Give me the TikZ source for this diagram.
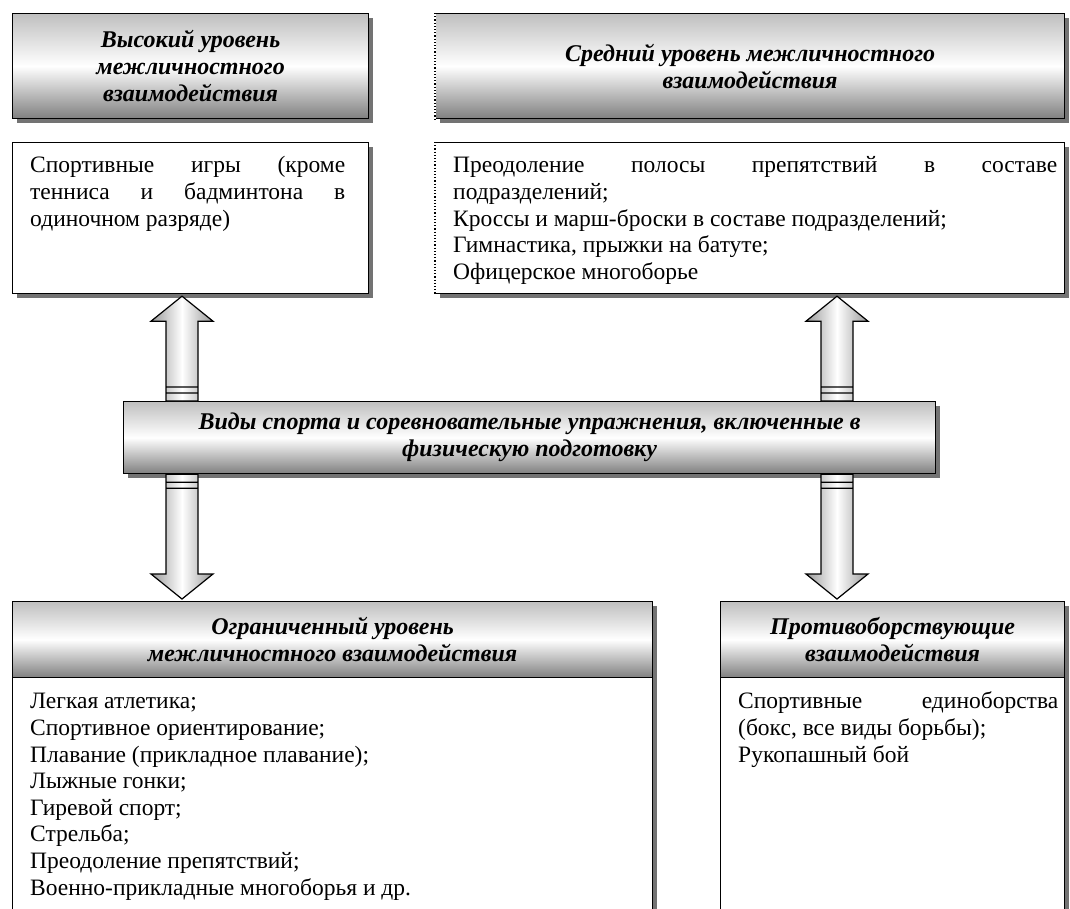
\documentclass[tikz,border=0pt]{standalone}
\usepackage{fontspec}
\setmainfont{Liberation Serif}
\usetikzlibrary{shadows,calc}

\newcommand{\fatarrow}[2]{%
  \path[fat arrow] let \p1=(#1), \p2=(#2), \n1={ifthenelse(\y2>\y1,1,-1)} in
    ({\x1-16pt},\y1) -- ({\x1-16pt},{\y2-\n1*25pt}) -- ({\x1-31pt},{\y2-\n1*25pt}) -- (\p2)
    -- ({\x1+31pt},{\y2-\n1*25pt}) -- ({\x1+16pt},{\y2-\n1*25pt}) -- ({\x1+16pt},\y1) -- cycle
    ({\x1-16pt},{\y1+\n1*8pt}) -- ({\x1+16pt},{\y1+\n1*8pt})
    ({\x1-16pt},{\y1+\n1*14pt}) -- ({\x1+16pt},{\y1+\n1*14pt});}
\newcommand{\fullline}[2]{\makebox[#1][s]{#2}}

\begin{document}
\begin{tikzpicture}[x=1pt,y=-1pt]
% Styles
\tikzset{
    box/.style={draw=black, line width=1.2pt, anchor=north west, inner sep=0pt,
        drop shadow={shadow xshift=4pt, shadow yshift=-4pt, fill=black!55, opacity=1}},
    head/.style={box, top color=black!25, bottom color=black!50, middle color=white,
        font=\fontsize{24pt}{27pt}\selectfont\bfseries\itshape, align=center},
    body/.style={box, fill=white},
    body text/.style={anchor=north west, inner sep=0pt, align=left,
        font=\fontsize{23.5pt}{26.6pt}\selectfont},
    fat arrow/.style={draw=black, line width=1.2pt,
        left color=black!40, right color=black!40, middle color=white}
}
\useasboundingbox (0,0) rectangle (1070,908);

% Nodes
\node[head, minimum width=356pt, minimum height=105pt] (tl head) at (12,13)
    {Высокий уровень\\межличностного\\взаимодействия};
\node[body, minimum width=356pt, minimum height=151pt] (tl body) at (12,142) {};
\node[head, minimum width=629pt, minimum height=105pt] (tr head) at (435,13)
    {Средний уровень межличностного\\взаимодействия};
\node[body, minimum width=629pt, minimum height=151pt] (tr body) at (435,142) {};

\node[head, minimum width=812pt, minimum height=72pt] (bar) at (123,401)
    {Виды спорта и соревновательные упражнения, включенные в\\физическую подготовку};

\node[head, minimum width=640pt, minimum height=76pt] (bl head) at (12,601)
    {Ограниченный уровень\\межличностного взаимодействия};
\node[body, minimum width=640pt, minimum height=240pt] (bl body) at (12,677) {};
\node[head, minimum width=344pt, minimum height=76pt] (br head) at (720,601)
    {Противоборствующие\\взаимодействия};
\node[body, minimum width=344pt, minimum height=240pt] (br body) at (720,677) {};

% Texts
\node[body text] (tl text) at ($(tl body.north west)+(18,12)$)
    {\strut\fullline{315pt}{Спортивные игры (кроме}\\
     \fullline{315pt}{тенниса и бадминтона в}\\
     одиночном разряде)};
\node[body text] (tr text) at ($(tr body.north west)+(18,12)$)
    {\strut\fullline{604pt}{Преодоление полосы препятствий в составе}\\
     подразделений;\\
     Кроссы и марш-броски в составе подразделений;\\
     Гимнастика, прыжки на батуте;\\
     Офицерское многоборье};
\node[body text] (bl text) at ($(bl body.north west)+(18,13)$)
    {\strut Легкая атлетика;\\
     Спортивное ориентирование;\\
     Плавание (прикладное плавание);\\
     Лыжные гонки;\\
     Гиревой спорт;\\
     Стрельба;\\
     Преодоление препятствий;\\
     Военно-прикладные многоборья и др.};
\node[body text] (br text) at ($(br body.north west)+(18,13)$)
    {\strut\fullline{320pt}{Спортивные единоборства}\\
     (бокс, все виды борьбы);\\
     Рукопашный бой};

% Dotted left edges
\draw[white, line width=1.6pt] (tr head.north west) -- (tr head.south west)
    (tr body.north west) -- (tr body.south west);
\draw[black, line width=1.2pt, dotted] (tr head.north west) -- (tr head.south west)
    (tr body.north west) -- (tr body.south west);

% Connections
\coordinate (left axis) at (182,0);
\coordinate (right axis) at (837,0);
\fatarrow{bar.north -| left axis}{$(tl body.south -| left axis)+(0,2)$}
\fatarrow{bar.north -| right axis}{$(tr body.south -| right axis)+(0,2)$}
\fatarrow{bar.south -| left axis}{$(bl head.north -| left axis)+(0,-2)$}
\fatarrow{bar.south -| right axis}{$(br head.north -| right axis)+(0,-2)$}
\end{tikzpicture}
\end{document}
